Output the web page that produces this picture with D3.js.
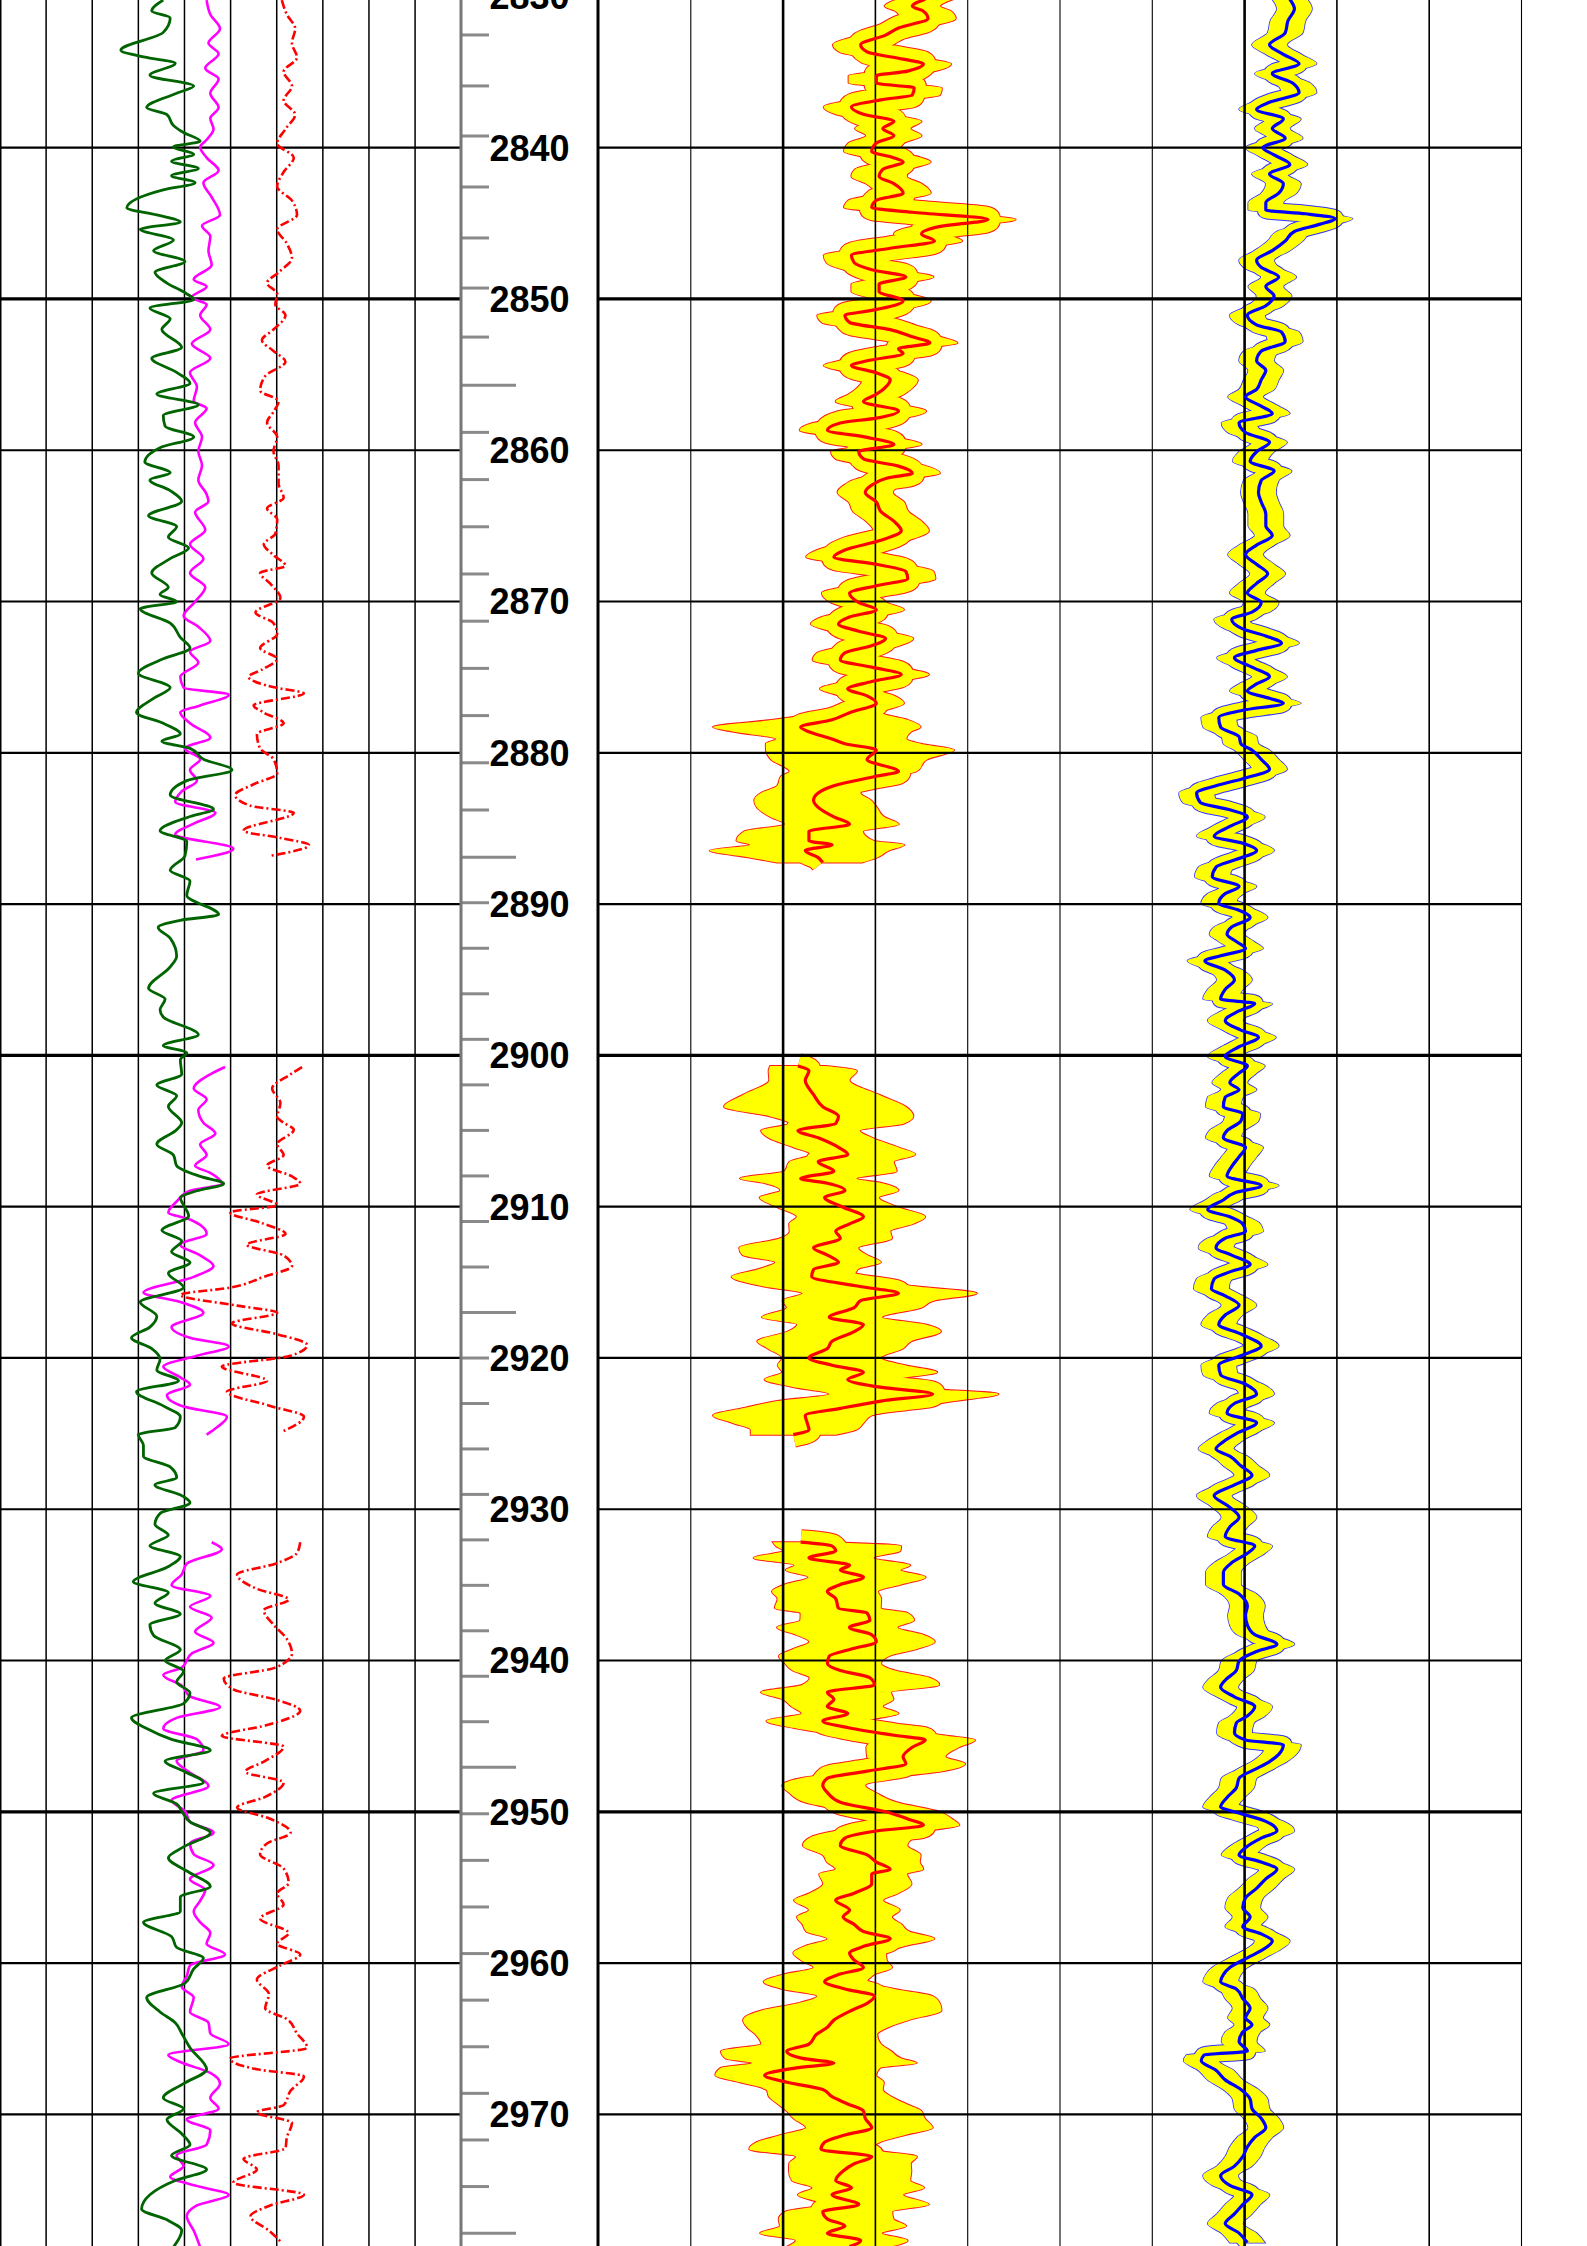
<!DOCTYPE html>
<html><head><meta charset="utf-8">
<script src="https://cdn.jsdelivr.net/npm/d3@7"></script>
<style>body{margin:0;background:#fff}svg{display:block}</style>
</head><body><svg id="c" width="1587" height="2246"></svg>
<script>
// ---------- DATA ----------
const depthTop = 2830.24, depthBottom = 2978.7;
const depthLabels = [2830,2840,2850,2860,2870,2880,2890,2900,2910,2920,2930,2940,2950,2960,2970];
const depthTickMajor = [2855.7,2886.9,2917.0,2947.05,2977.85];
const depthTickMinorTop = [2832.55,2835.92,2839.23,2842.6,2845.97,2849.28,2852.52];

const curveGreen = [[2830.25,35.4],[2830.96,32.9],[2831.43,36.9],[2832.38,35.4],[2833.56,26.2],[2834.04,31.8],[2834.42,38.0],[2835.22,32.5],[2835.93,42.0],[2836.4,38.3],[2837.35,31.8],[2837.82,36.2],[2838.53,37.6],[2839.0,39.8],[2839.57,43.4],[2839.95,37.6],[2840.43,42.0],[2840.9,37.2],[2841.37,43.0],[2841.85,37.2],[2842.32,42.3],[2842.79,35.4],[2843.98,27.5],[2844.45,34.0],[2844.92,39.1],[2845.4,30.4],[2846.1,37.6],[2846.82,33.3],[2847.53,40.1],[2848.24,33.6],[2848.95,36.2],[2849.66,40.5],[2850.03,42.0],[2850.6,32.5],[2851.31,36.9],[2852.02,35.1],[2853.2,39.4],[2853.92,32.9],[2854.86,38.3],[2855.57,41.2],[2856.28,34.0],[2856.99,43.0],[2857.7,35.4],[2858.41,35.8],[2859.12,42.0],[2859.83,34.7],[2860.78,31.4],[2861.49,36.9],[2861.96,32.5],[2862.67,36.9],[2863.38,39.4],[2864.33,32.2],[2865.04,38.3],[2865.75,36.5],[2866.46,40.9],[2867.17,36.9],[2868.11,32.9],[2869.06,36.5],[2869.53,34.7],[2870.01,38.3],[2870.48,30.4],[2871.43,36.9],[2872.37,39.1],[2873.08,41.2],[2873.79,35.4],[2874.74,30.0],[2875.69,36.9],[2876.4,33.3],[2877.34,29.6],[2878.05,35.4],[2878.76,39.1],[2879.24,35.1],[2879.71,41.2],[2880.42,44.1],[2881.13,50.3],[2881.84,40.5],[2882.79,36.9],[2883.73,46.3],[2884.21,41.2],[2885.15,34.7],[2885.86,40.5],[2886.81,40.1],[2887.76,36.9],[2888.47,41.2],[2889.41,40.5],[2890.69,47.4],[2891.07,39.1],[2891.54,34.3],[2892.25,36.9],[2893.44,38.3],[2894.15,36.9],[2895.57,32.2],[2896.28,35.8],[2896.99,34.7],[2897.46,35.4],[2898.64,43.0],[2899.35,35.4],[2899.83,40.5],[2900.3,39.1],[2901.25,39.4],[2901.96,34.0],[2902.67,38.3],[2903.38,36.5],[2904.45,39.4],[2904.92,38.3],[2905.87,34.0],[2906.58,37.6],[2907.29,38.3],[2908.0,43.4],[2908.48,48.5],[2908.95,42.7],[2909.43,39.1],[2909.9,39.8],[2910.61,40.9],[2911.56,35.1],[2912.27,39.4],[2912.98,37.2],[2913.69,41.2],[2914.4,36.5],[2915.35,39.8],[2916.3,30.4],[2917.25,34.0],[2917.96,32.5],[2918.67,28.5],[2919.38,32.9],[2920.09,34.7],[2920.8,34.0],[2921.51,38.7],[2922.23,29.6],[2923.17,35.4],[2923.88,39.1],[2924.6,38.0],[2925.07,30.0],[2925.78,31.1],[2926.49,31.1],[2927.2,36.9],[2927.91,38.3],[2928.39,33.6],[2929.1,39.4],[2929.57,41.2],[2930.28,34.7],[2930.99,33.6],[2931.71,36.5],[2932.42,32.5],[2933.13,39.1],[2933.84,36.2],[2934.79,28.9],[2935.5,36.5],[2936.21,33.6],[2936.92,39.1],[2937.63,32.5],[2938.34,33.3],[2939.29,39.1],[2940.0,35.8],[2940.71,39.8],[2941.42,38.3],[2942.13,41.2],[2942.84,39.8],[2943.79,28.5],[2944.5,31.8],[2945.21,37.2],[2945.93,45.6],[2946.64,35.8],[2947.35,40.1],[2948.06,44.1],[2948.77,33.3],[2949.48,38.3],[2949.95,39.4],[2950.67,41.2],[2951.38,45.6],[2952.32,39.8],[2953.04,36.5],[2953.98,40.9],[2954.93,45.6],[2955.64,39.1],[2956.59,39.1],[2957.3,31.1],[2958.25,37.2],[2958.96,38.3],[2959.67,44.1],[2960.38,42.0],[2961.33,40.1],[2962.28,31.8],[2963.23,34.7],[2963.94,38.0],[2964.65,39.4],[2965.6,41.2],[2967.02,44.8],[2967.97,39.8],[2968.91,35.4],[2969.63,39.8],[2970.34,36.2],[2971.28,39.4],[2972.0,41.2],[2972.71,37.2],[2973.65,44.8],[2974.37,38.0],[2975.31,32.5],[2976.26,30.7],[2976.97,36.2],[2977.68,39.4],[2978.77,37.6]];

const curveMagenta = [[2830.25,44.8],[2831.2,45.6],[2832.14,47.7],[2833.09,45.2],[2833.8,47.4],[2834.75,44.5],[2835.46,47.4],[2836.4,45.6],[2837.35,47.4],[2838.06,45.6],[2838.77,46.3],[2839.48,44.8],[2839.95,43.4],[2840.66,44.8],[2841.51,47.4],[2842.32,44.1],[2843.27,45.9],[2844.45,47.7],[2845.16,43.8],[2845.87,45.6],[2846.82,45.2],[2847.76,45.9],[2848.71,42.0],[2849.18,44.8],[2849.89,41.6],[2850.37,44.8],[2851.08,43.4],[2852.02,45.6],[2852.97,41.6],[2853.92,45.6],[2854.86,41.2],[2855.81,42.7],[2856.75,42.0],[2857.23,44.8],[2858.17,42.3],[2859.12,43.8],[2860.07,43.0],[2861.01,43.8],[2861.96,43.0],[2862.91,44.8],[2863.38,45.2],[2864.09,42.3],[2865.27,44.5],[2866.22,41.2],[2867.17,44.1],[2868.11,41.2],[2869.06,44.5],[2870.01,42.3],[2870.96,39.8],[2871.67,43.0],[2872.61,45.6],[2873.32,41.2],[2874.03,43.0],[2874.98,39.1],[2875.69,39.8],[2876.16,49.6],[2876.87,43.4],[2877.34,39.1],[2878.05,41.2],[2879.0,45.6],[2879.71,40.1],[2880.42,43.4],[2881.13,41.2],[2881.84,42.7],[2882.55,39.4],[2883.26,38.0],[2883.97,46.7],[2884.68,42.0],[2885.39,38.0],[2886.34,50.6],[2887.05,42.5],[2887.1,null],
[2900.77,48.8],[2901.25,45.6],[2902.19,42.0],[2902.9,44.8],[2903.61,43.0],[2904.45,44.1],[2905.16,46.7],[2905.87,43.4],[2906.58,44.8],[2907.29,42.3],[2907.77,45.6],[2908.48,48.1],[2908.95,41.2],[2909.66,38.3],[2910.38,36.5],[2910.85,41.2],[2911.8,44.8],[2912.51,39.1],[2913.22,43.4],[2913.93,46.3],[2914.64,42.0],[2915.68,31.1],[2916.3,39.1],[2917.01,44.1],[2917.96,37.2],[2918.67,41.2],[2919.24,49.6],[2919.86,42.7],[2920.57,35.4],[2921.28,39.1],[2921.75,41.2],[2922.46,36.2],[2923.17,39.4],[2923.88,49.2],[2924.6,47.0],[2925.07,44.8],[2925.1,null],
[2932.18,45.9],[2932.65,48.1],[2933.6,40.5],[2934.31,39.4],[2935.02,37.2],[2935.73,45.6],[2936.45,41.2],[2937.16,45.9],[2938.1,42.3],[2938.82,46.3],[2939.53,41.6],[2940.47,39.4],[2940.95,35.4],[2941.66,39.4],[2942.37,41.2],[2943.08,47.7],[2943.79,38.3],[2944.5,35.4],[2945.21,42.7],[2945.93,44.1],[2946.64,38.3],[2947.35,40.9],[2948.3,45.2],[2949.24,37.2],[2949.95,40.1],[2950.67,41.2],[2951.38,46.3],[2952.09,41.2],[2952.8,42.0],[2953.51,46.3],[2954.46,41.2],[2955.17,44.5],[2955.88,43.4],[2956.59,42.0],[2957.3,43.4],[2958.01,45.6],[2958.72,44.8],[2959.43,48.8],[2960.15,41.2],[2960.86,40.5],[2961.57,39.4],[2962.28,42.0],[2963.23,41.2],[2963.94,45.2],[2964.65,45.6],[2965.36,49.6],[2966.07,36.5],[2966.54,39.1],[2967.26,45.6],[2967.97,47.7],[2968.91,45.6],[2969.63,47.4],[2970.34,40.5],[2971.05,45.6],[2972.0,44.8],[2972.71,38.3],[2973.42,39.8],[2974.13,36.9],[2974.84,44.1],[2975.31,49.6],[2976.02,42.7],[2976.74,40.5],[2977.68,42.0],[2978.77,43.4]];

const curveRedDash = [[2830.25,61.1],[2831.2,62.2],[2832.14,64.0],[2833.09,63.3],[2834.04,64.4],[2834.98,61.5],[2835.93,63.3],[2836.88,61.5],[2837.82,64.0],[2838.77,61.9],[2839.72,60.1],[2840.66,63.7],[2841.61,61.5],[2842.56,60.1],[2843.5,63.3],[2844.45,64.4],[2845.4,60.1],[2846.34,62.2],[2847.29,63.3],[2848.24,60.4],[2848.95,57.9],[2849.66,60.1],[2850.37,59.7],[2851.08,61.9],[2852.02,59.3],[2852.73,56.8],[2853.44,59.3],[2854.15,61.9],[2855.1,57.5],[2856.05,56.4],[2856.75,60.4],[2857.46,59.3],[2858.17,57.9],[2859.12,60.1],[2860.07,59.3],[2861.01,60.4],[2862.2,60.4],[2863.14,61.5],[2863.85,57.9],[2864.56,60.1],[2865.51,59.7],[2866.22,57.2],[2866.93,59.3],[2867.64,61.9],[2868.11,56.4],[2868.82,58.6],[2869.77,60.8],[2870.72,55.4],[2871.43,59.3],[2872.14,60.1],[2873.08,56.4],[2873.79,60.1],[2874.5,56.8],[2874.98,53.9],[2875.69,59.7],[2876.07,65.9],[2876.87,55.0],[2877.34,57.2],[2878.05,61.5],[2878.76,55.7],[2879.71,56.4],[2880.42,59.3],[2881.37,60.1],[2882.08,55.0],[2882.79,51.0],[2883.5,54.3],[2883.97,63.7],[2885.15,52.8],[2885.63,60.8],[2886.1,67.0],[2886.81,58.6],[2886.9,null],
[2900.77,65.5],[2901.25,63.0],[2902.19,59.0],[2903.14,60.8],[2904.08,60.1],[2904.45,61.5],[2904.92,63.7],[2905.87,60.1],[2906.58,61.5],[2907.29,57.9],[2908.0,63.3],[2908.48,65.1],[2909.19,55.7],[2909.9,60.1],[2910.38,49.9],[2911.09,56.8],[2911.8,61.9],[2912.51,53.5],[2913.22,61.5],[2913.93,63.3],[2914.64,57.2],[2915.35,49.9],[2915.83,39.1],[2916.54,51.4],[2917.01,60.1],[2917.72,50.3],[2918.43,60.1],[2919.14,66.6],[2919.86,63.0],[2920.57,48.1],[2921.51,57.9],[2922.23,49.2],[2923.17,58.6],[2923.88,65.9],[2924.83,61.5],[2924.9,null],
[2932.18,65.1],[2932.89,64.4],[2933.6,59.7],[2934.31,51.4],[2935.26,55.7],[2935.97,62.6],[2936.68,57.2],[2937.63,59.3],[2938.58,62.2],[2939.53,63.3],[2940.47,59.7],[2941.19,48.5],[2941.9,50.6],[2942.61,60.1],[2943.32,65.1],[2944.27,57.9],[2944.98,48.1],[2945.69,61.5],[2946.64,57.5],[2947.35,53.2],[2948.06,61.5],[2949.01,57.5],[2949.72,51.4],[2950.43,58.3],[2951.38,63.0],[2952.09,57.9],[2952.8,56.4],[2953.75,61.5],[2954.69,62.6],[2955.41,60.1],[2956.12,61.5],[2957.06,56.4],[2958.01,62.6],[2958.72,60.1],[2959.43,65.1],[2960.15,60.8],[2961.09,55.7],[2962.04,58.3],[2962.99,57.5],[2963.7,62.2],[2964.65,64.4],[2965.6,66.6],[2966.31,49.9],[2967.02,55.7],[2967.49,65.9],[2968.44,63.0],[2969.39,61.5],[2969.86,55.7],[2970.57,63.3],[2971.52,62.2],[2972.23,61.9],[2972.94,52.8],[2973.65,55.7],[2974.51,50.6],[2975.31,65.9],[2976.02,58.6],[2976.74,54.3],[2977.68,58.3],[2978.39,60.8]];

const midRedLine = [[2830.19,35.4],[2830.66,34.0],[2830.98,35.2],[2831.46,35.7],[2832.09,32.5],[2832.56,31.1],[2833.2,28.4],[2833.67,29.1],[2834.15,33.0],[2834.46,35.2],[2834.94,33.5],[2835.25,30.1],[2835.73,30.1],[2836.05,34.2],[2836.52,34.0],[2836.84,30.6],[2837.31,27.4],[2837.79,28.7],[2838.26,32.0],[2838.74,30.8],[2839.21,32.0],[2839.69,30.1],[2840.25,29.6],[2840.63,31.8],[2840.95,33.0],[2841.43,30.8],[2841.9,30.4],[2842.38,32.0],[2843.01,33.0],[2843.48,30.1],[2843.96,29.6],[2844.27,34.0],[2844.75,42.2],[2845.22,36.9],[2845.7,35.0],[2846.17,36.4],[2846.65,31.6],[2847.12,27.4],[2847.6,27.7],[2848.07,29.6],[2848.55,33.3],[2849.02,30.4],[2849.5,30.4],[2850.13,33.0],[2850.76,29.6],[2851.08,26.7],[2851.55,27.2],[2852.03,31.6],[2852.5,34.0],[2852.91,35.9],[2853.29,32.5],[2853.61,33.0],[2854.09,29.1],[2854.4,27.4],[2854.88,30.1],[2855.35,31.6],[2855.83,31.1],[2856.3,30.1],[2856.78,28.7],[2857.41,32.5],[2857.88,30.1],[2858.2,26.2],[2858.68,24.8],[2859.15,29.1],[2859.62,32.0],[2860.1,28.2],[2860.57,28.7],[2861.05,32.5],[2861.52,34.0],[2861.84,31.3],[2862.31,29.6],[2862.79,28.9],[2863.42,30.1],[2864.06,30.6],[2864.69,32.0],[2865.32,32.8],[2865.95,30.6],[2866.59,26.7],[2867.06,25.5],[2867.54,30.1],[2868.01,33.3],[2868.49,33.5],[2868.96,30.1],[2869.44,27.2],[2870.07,28.2],[2870.54,30.1],[2871.02,27.2],[2871.49,26.0],[2871.97,28.2],[2872.44,31.1],[2872.92,29.6],[2873.39,26.7],[2873.87,26.2],[2874.34,29.6],[2874.82,32.8],[2875.29,29.6],[2875.77,27.0],[2876.24,29.1],[2876.72,30.1],[2877.35,27.2],[2877.82,25.3],[2878.3,21.9],[2878.61,22.8],[2879.09,25.3],[2879.4,26.7],[2879.82,30.1],[2880.44,29.1],[2881.23,32.5],[2881.55,30.1],[2882.18,25.5],[2882.66,23.8],[2883.13,23.3],[2883.61,23.8],[2884.24,25.5],[2884.72,27.2],[2885.19,22.8],[2885.82,22.8],[2886.08,25.3],[2886.46,22.4],[2886.93,23.8],[2887.25,24.3],[2887.3,null],
[2900.7,21.6],[2901.02,22.8],[2901.65,22.4],[2902.6,23.3],[2903.39,24.3],[2904.02,26.0],[2904.5,25.7],[2904.97,21.6],[2905.45,23.8],[2906.08,26.0],[2906.55,27.0],[2907.03,23.8],[2907.66,25.5],[2908.14,21.9],[2908.45,24.8],[2908.93,26.7],[2909.4,24.5],[2910.04,26.5],[2910.67,28.7],[2911.14,27.2],[2911.62,25.7],[2912.09,26.2],[2912.73,23.3],[2913.2,24.8],[2913.68,26.0],[2914.15,23.3],[2914.63,23.1],[2915.26,28.2],[2915.73,32.5],[2916.21,28.4],[2916.68,27.7],[2917.31,25.0],[2917.79,28.7],[2918.26,27.7],[2918.9,25.3],[2919.37,24.8],[2920.0,22.8],[2920.48,25.3],[2920.95,28.7],[2921.43,27.0],[2921.9,30.1],[2922.38,36.2],[2922.85,30.6],[2923.33,26.2],[2923.8,22.4],[2924.28,22.6],[2924.75,22.8],[2925.07,21.1],[2925.1,null],
[2932.18,21.9],[2932.43,25.3],[2932.75,25.7],[2933.22,22.8],[2933.7,27.2],[2934.02,26.2],[2934.49,28.7],[2934.97,26.2],[2935.44,24.8],[2935.91,25.7],[2936.55,26.0],[2936.86,29.1],[2937.34,29.4],[2937.81,27.2],[2938.29,29.6],[2938.76,30.1],[2939.24,27.4],[2939.71,25.0],[2940.19,24.8],[2940.66,26.2],[2941.14,29.4],[2941.61,29.9],[2942.09,24.8],[2942.56,25.5],[2943.04,24.8],[2943.51,27.0],[2943.99,24.3],[2944.46,27.2],[2944.94,32.0],[2945.25,35.4],[2945.73,34.0],[2946.36,33.0],[2946.83,33.3],[2947.31,29.1],[2947.78,24.8],[2948.26,24.3],[2948.73,24.8],[2949.37,26.2],[2950.0,31.1],[2950.47,33.5],[2950.89,35.2],[2951.27,30.1],[2951.74,26.7],[2952.22,26.2],[2952.85,29.1],[2953.32,30.1],[2953.8,31.6],[2954.11,29.6],[2954.75,29.6],[2955.38,27.7],[2955.85,25.7],[2956.49,27.2],[2956.96,26.5],[2957.44,27.7],[2957.91,28.7],[2958.39,31.6],[2958.86,28.9],[2959.34,27.2],[2959.81,27.7],[2960.29,28.7],[2960.76,26.0],[2961.24,24.5],[2961.71,26.7],[2962.18,29.9],[2962.66,29.1],[2963.13,27.4],[2963.77,25.5],[2964.24,24.8],[2964.72,23.6],[2965.35,22.8],[2965.82,20.4],[2966.3,22.1],[2966.61,25.5],[2966.93,21.4],[2967.41,18.0],[2967.88,20.4],[2968.36,24.3],[2968.83,25.3],[2969.31,27.0],[2969.78,28.7],[2970.26,28.9],[2970.89,29.6],[2971.36,26.7],[2971.84,24.5],[2972.31,24.1],[2972.79,29.6],[2973.26,27.7],[2973.74,26.5],[2974.37,25.7],[2974.85,27.4],[2975.32,25.3],[2975.96,28.2],[2976.43,24.3],[2976.91,24.8],[2977.38,26.7],[2977.86,24.8],[2978.33,28.4],[2978.74,27.2]];

// how far the yellow band reaches beyond the red curve where it is wide: [depth, left, right]
const midBandOffset = [[2877.3,3,3],[2878.3,9.5,13],[2879.1,6,8],[2879.8,12,8.5],[2880.6,10,6],[2881.3,12,1.5],[2882.2,6,3],[2883.3,6.5,6.8],[2884.5,7,5.1],[2885.6,7,6.3],[2886.5,10.5,9.2],[2887.3,4.6,3.9],
[2900.7,4.6,5.4],[2901.65,3.9,4.8],[2903.39,10.7,9.0],[2904.8,3.5,7],[2905.6,5.8,5.6],[2907.03,3.1,8.2],[2907.98,6.5,6.1],[2908.93,7,5.8],[2910.2,7.1,6],[2911.0,7.3,7.2],[2911.5,4.6,6],[2912.09,6.5,5.6],[2913.2,9.2,4.3],[2914.0,5.3,4.8],[2914.95,10.4,4.6],[2915.73,10.4,8.5],[2916.5,7.3,7.7],[2917.6,7.3,5],[2918.1,7,9.6],[2919.05,8.3,8.4],[2920.0,2.9,7.8],[2920.95,8.8,8],[2921.9,9.2,2.9],[2922.5,11.7,8.2],[2923.8,10,7.2],[2924.75,6.3,5.1],[2925.07,4.6,4.6],
[2932.18,6.8,8.2],[2932.6,5.6,7],[2933.22,6,7],[2933.54,6,6.6],[2934.17,5.9,6.5],[2934.8,6,7],[2935.6,6,5.1],[2936.86,7.2,4.4],[2938.29,8.2,5.6],[2939.24,6.3,7.1],[2940.35,4.3,5.6],[2941.77,8.3,7.2],[2943.04,3.9,6],[2943.99,6.1,5],[2945.25,5.8,5.4],[2946.36,3.9,4.6],[2947.31,1.5,8.3],[2948.26,4.4,4.6],[2949.68,3.7,6.5],[2950.89,5,3.9],[2951.9,3.7,8],[2953.8,5.9,3.6],[2956.33,4.2,5.5],[2958.39,6.8,4.8],[2960.29,5.4,3.1],[2961.55,7,5.1],[2962.34,6,6.6],[2963.29,10.5,10.4],[2964.08,9.4,6.6],[2965.19,4.5,6.6],[2965.98,7.8,12.5],[2966.77,9.1,8.1],[2967.57,4.4,13.1],[2968.36,6.1,6.5],[2969.78,8.3,6.3],[2971.2,6.8,6.7],[2972.79,8.2,4.9],[2974.05,5.1,8.2],[2975.32,3.7,7.7],[2976.6,4.1,7.5],[2977.5,7.5,6.5],[2978.74,6.8,4.4]];
const midBandHalfWidth = 3.0;   // band half-width (track units) elsewhere
const blueBandHalfWidth = 1.9;

const blueLine = [[2830.19,74.9],[2830.82,75.4],[2831.61,74.7],[2832.41,74.4],[2833.2,72.7],[2833.83,74.2],[2834.46,75.9],[2835.1,73.0],[2835.73,75.2],[2836.36,75.9],[2837.0,72.7],[2837.47,71.3],[2838.1,74.2],[2838.74,73.0],[2839.37,74.4],[2840.0,72.0],[2840.48,73.2],[2841.11,74.9],[2841.74,72.7],[2842.38,74.2],[2843.01,73.7],[2843.64,72.3],[2844.12,72.3],[2844.37,76.6],[2844.69,79.8],[2845.07,78.1],[2845.54,75.4],[2846.17,74.4],[2846.81,73.0],[2847.44,71.3],[2847.91,71.8],[2848.55,73.7],[2849.18,72.3],[2849.81,73.2],[2850.45,72.3],[2851.08,70.3],[2851.71,71.3],[2852.19,74.0],[2852.82,74.4],[2853.45,71.8],[2854.09,71.3],[2854.72,72.3],[2855.35,71.8],[2855.98,71.3],[2856.46,70.1],[2857.09,71.8],[2857.57,73.0],[2858.2,69.4],[2858.83,70.1],[2859.47,72.7],[2860.1,71.3],[2860.73,70.6],[2861.37,73.2],[2862.0,71.8],[2862.79,71.5],[2863.42,71.8],[2864.21,72.3],[2865.0,72.3],[2865.64,73.0],[2866.27,71.3],[2866.9,70.1],[2867.54,71.3],[2868.17,72.5],[2868.8,71.3],[2869.44,70.3],[2870.07,71.8],[2870.7,70.8],[2871.18,68.6],[2871.81,69.8],[2872.28,72.3],[2872.76,74.0],[2873.23,71.3],[2873.71,68.9],[2874.34,70.8],[2874.97,72.7],[2875.45,71.3],[2875.92,70.3],[2876.4,72.7],[2876.72,74.2],[2877.19,69.8],[2877.67,67.2],[2878.3,67.4],[2878.93,69.4],[2879.4,69.6],[2879.82,70.8],[2880.44,71.8],[2881.08,72.7],[2881.71,69.8],[2882.18,66.9],[2882.66,64.8],[2883.29,65.2],[2883.77,68.4],[2884.24,70.3],[2884.87,68.4],[2885.51,66.7],[2885.98,69.8],[2886.46,71.3],[2887.09,68.9],[2887.56,66.9],[2888.2,66.5],[2888.83,69.4],[2889.31,67.9],[2889.94,67.2],[2890.41,69.4],[2890.89,70.6],[2891.52,68.6],[2892.0,68.1],[2892.47,69.1],[2892.94,70.1],[2893.42,67.4],[2893.74,65.7],[2894.37,67.9],[2895.0,68.9],[2895.64,67.9],[2896.27,67.4],[2896.58,71.1],[2897.06,69.4],[2897.69,67.9],[2898.33,69.6],[2898.8,71.5],[2899.43,69.4],[2900.07,67.9],[2900.7,70.3],[2901.17,69.4],[2901.81,68.4],[2902.28,69.4],[2902.76,67.9],[2903.39,67.7],[2903.86,69.8],[2904.34,69.6],[2904.97,68.1],[2905.45,67.7],[2906.08,70.1],[2906.71,69.4],[2907.35,68.6],[2907.98,68.1],[2908.61,71.8],[2909.09,68.9],[2909.56,67.7],[2910.19,66.0],[2910.67,68.4],[2911.14,69.8],[2911.62,70.1],[2912.09,67.9],[2912.73,66.9],[2913.2,68.6],[2913.83,70.6],[2914.31,68.4],[2914.78,66.7],[2915.42,66.4],[2915.89,67.9],[2916.52,69.4],[2917.16,67.9],[2917.79,67.2],[2918.42,69.6],[2919.21,71.8],[2919.85,69.6],[2920.48,67.2],[2921.11,67.4],[2921.74,70.1],[2922.38,71.3],[2923.01,68.9],[2923.64,68.1],[2924.28,71.3],[2924.91,69.4],[2925.54,67.7],[2926.02,66.9],[2926.49,68.4],[2927.13,69.6],[2927.76,70.8],[2928.39,68.9],[2929.11,66.7],[2929.74,68.1],[2930.53,69.4],[2931.17,68.4],[2931.8,67.9],[2932.43,71.1],[2932.91,70.3],[2933.54,68.6],[2934.17,67.7],[2934.97,67.7],[2935.6,69.4],[2936.39,70.3],[2937.02,70.1],[2937.66,70.3],[2938.29,71.1],[2938.92,73.5],[2939.4,71.3],[2940.03,69.4],[2940.66,69.1],[2941.3,67.9],[2941.77,67.4],[2942.4,68.9],[2943.04,71.1],[2943.67,70.3],[2944.14,69.1],[2944.78,68.9],[2945.25,70.1],[2945.57,74.2],[2946.2,73.7],[2946.68,72.7],[2947.15,71.3],[2947.78,69.4],[2948.42,69.1],[2949.05,68.1],[2949.68,67.4],[2950.0,68.9],[2950.63,72.3],[2951.27,73.5],[2951.74,71.8],[2952.37,70.1],[2952.85,69.4],[2953.32,71.8],[2953.8,73.5],[2954.43,72.3],[2955.06,71.3],[2955.7,70.1],[2956.33,69.8],[2956.96,70.6],[2957.6,69.8],[2958.07,71.8],[2958.54,73.0],[2959.18,71.8],[2959.65,70.3],[2960.29,68.4],[2960.76,67.7],[2961.24,67.4],[2961.71,69.1],[2962.34,69.8],[2962.98,70.6],[2963.61,70.1],[2964.08,70.8],[2964.56,69.8],[2965.19,69.4],[2965.82,70.3],[2966.08,65.6],[2966.46,65.3],[2967.09,66.9],[2967.72,67.9],[2968.36,69.6],[2968.99,70.6],[2969.62,70.8],[2970.26,71.8],[2970.89,72.3],[2971.52,71.1],[2972.15,70.3],[2972.79,69.8],[2973.42,68.9],[2974.05,67.4],[2974.69,68.4],[2975.32,70.8],[2975.96,69.8],[2976.58,68.9],[2977.22,67.9],[2977.85,69.4],[2978.48,70.3]];

// ---------- DRAWING ----------
const W = 1587, H = 2246;
const svg = d3.select('#c');
const y = d3.scaleLinear().domain([depthTop, depthBottom]).range([0, H]);
const xL = d3.scaleLinear().domain([0, 100]).range([0, 461.2]);
const xM = d3.scaleLinear().domain([0, 100]).range([598.5, 1521.5]);
const gridDepths = d3.range(2840, 2980, 10);

function segments(arr) {
  const segs = []; let cur = [];
  arr.forEach(p => { if (p[1] == null) { if (cur.length) segs.push(cur); cur = []; } else cur.push(p); });
  if (cur.length) segs.push(cur);
  return segs;
}
function offAt(d, dflt) {
  for (let i = 0; i < midBandOffset.length - 1; i++) {
    const a = midBandOffset[i], b = midBandOffset[i + 1];
    if (d >= a[0] && d <= b[0]) {
      if (b[0] - a[0] > 5) return [dflt, dflt];
      const t = (d - a[0]) / (b[0] - a[0]);
      return [a[1] + t * (b[1] - a[1]), a[2] + t * (b[2] - a[2])];
    }
  }
  return [dflt, dflt];
}

const gBand = svg.append('g');
const gGrid = svg.append('g');
const gCurves = svg.append('g');
const gDepth = svg.append('g');

const lineMid = d3.line().x(d => xM(d[1])).y(d => y(d[0])).curve(d3.curveMonotoneY);
const areaMid = d3.area()
  .y(d => y(d.d)).x0(d => xM(d.v - d.off[0])).x1(d => xM(d.v + d.off[1])).curve(d3.curveMonotoneY);

const redSegs = segments(midRedLine);
const redPts = redSegs.map(s => s.map(p => ({ d: p[0], v: p[1], off: offAt(p[0], midBandHalfWidth) })));
const bluePts = blueLine.map(p => ({ d: p[0], v: p[1], off: [blueBandHalfWidth, blueBandHalfWidth] }));

// outline layers (drawn first, slightly larger), then yellow fill layers
redPts.forEach(s => gBand.append('path').attr('d', areaMid(s)).attr('fill', 'none').attr('stroke', '#ff1a1a').attr('stroke-width', 2));
redSegs.forEach(s => gBand.append('path').attr('d', lineMid(s)).attr('fill', 'none').attr('stroke', '#ff1a1a').attr('stroke-width', 26).attr('stroke-linejoin', 'round'));
gBand.append('path').attr('d', areaMid(bluePts)).attr('fill', 'none').attr('stroke', '#3030ff').attr('stroke-width', 1.6);
gBand.append('path').attr('d', lineMid(blueLine)).attr('fill', 'none').attr('stroke', '#3030ff').attr('stroke-width', 18).attr('stroke-linejoin', 'round');

redPts.forEach(s => gBand.append('path').attr('d', areaMid(s)).attr('fill', '#ffff00').attr('stroke', 'none'));
redSegs.forEach(s => gBand.append('path').attr('d', lineMid(s)).attr('fill', 'none').attr('stroke', '#ffff00').attr('stroke-width', 24).attr('stroke-linejoin', 'round'));
gBand.append('path').attr('d', areaMid(bluePts)).attr('fill', '#ffff00').attr('stroke', 'none');
gBand.append('path').attr('d', lineMid(blueLine)).attr('fill', 'none').attr('stroke', '#ffff00').attr('stroke-width', 16).attr('stroke-linejoin', 'round');

// ----- grid -----
d3.range(0, 100, 10).forEach(v => {
  const xx = Math.max(xL(v), 0.75);
  gGrid.append('line').attr('x1', xx).attr('x2', xx).attr('y1', 0).attr('y2', H)
    .attr('stroke', '#000').attr('stroke-width', 1.5);
});
d3.range(10, 101, 10).forEach(v => {
  const w = (v === 20 || v === 70) ? 2.6 : (v === 30 || v === 80 || v === 90) ? 1.6 : 1.1;
  gGrid.append('line').attr('x1', xM(v)).attr('x2', xM(v)).attr('y1', 0).attr('y2', H)
    .attr('stroke', '#000').attr('stroke-width', w);
});
gridDepths.forEach(d => {
  const w = d % 50 === 0 ? 3.2 : 2.2;
  gGrid.append('line').attr('x1', 0).attr('x2', 462.5).attr('y1', y(d)).attr('y2', y(d)).attr('stroke', '#000').attr('stroke-width', w);
  gGrid.append('line').attr('x1', 598.5).attr('x2', xM(100)).attr('y1', y(d)).attr('y2', y(d)).attr('stroke', '#000').attr('stroke-width', w);
});

// ----- middle curves -----
redSegs.forEach(s => gCurves.append('path').attr('d', lineMid(s)).attr('fill', 'none').attr('stroke', '#ff0000').attr('stroke-width', 3.2).attr('stroke-linejoin', 'round'));
gCurves.append('path').attr('d', lineMid(blueLine)).attr('fill', 'none').attr('stroke', '#0000ff').attr('stroke-width', 3.2).attr('stroke-linejoin', 'round');

// ----- left curves -----
const lineLeft = d3.line().x(d => xL(d[1])).y(d => y(d[0])).curve(d3.curveMonotoneY);
segments(curveRedDash).forEach(s => gCurves.append('path').attr('d', lineLeft(s)).attr('fill', 'none')
  .attr('stroke', '#ff0000').attr('stroke-width', 2.6).attr('stroke-dasharray', '9,3,2,3'));
segments(curveMagenta).forEach(s => gCurves.append('path').attr('d', lineLeft(s)).attr('fill', 'none')
  .attr('stroke', '#ff00ff').attr('stroke-width', 2.6).attr('stroke-linejoin', 'round'));
gCurves.append('path').attr('d', lineLeft(curveGreen)).attr('fill', 'none')
  .attr('stroke', '#006400').attr('stroke-width', 2.8).attr('stroke-linejoin', 'round');

// ----- depth track -----
gDepth.append('rect').attr('x', 462).attr('y', 0).attr('width', 135).attr('height', H).attr('fill', '#fff');
const minorTicks = depthTickMinorTop.slice();
for (let i = 0; i < depthTickMajor.length - 1; i++) {
  const a = depthTickMajor[i], b = depthTickMajor[i + 1];
  d3.range(1, 10).forEach(k => minorTicks.push(a + (b - a) * k / 10));
}
minorTicks.forEach(d => gDepth.append('line').attr('x1', 461).attr('x2', 489).attr('y1', y(d)).attr('y2', y(d))
  .attr('stroke', '#8a8a8a').attr('stroke-width', 3));
depthTickMajor.forEach(d => gDepth.append('line').attr('x1', 461).attr('x2', 516).attr('y1', y(d)).attr('y2', y(d))
  .attr('stroke', '#8a8a8a').attr('stroke-width', 3));
gDepth.append('line').attr('x1', 461).attr('x2', 461).attr('y1', 0).attr('y2', H).attr('stroke', '#777').attr('stroke-width', 3);
gDepth.append('line').attr('x1', 598).attr('x2', 598).attr('y1', 0).attr('y2', H).attr('stroke', '#000').attr('stroke-width', 3);
depthLabels.forEach(d => gDepth.append('text').attr('x', 489.5).attr('y', y(d)).attr('dy', '0.36em')
  .attr('font-family', '"Liberation Sans", Arial, sans-serif').attr('font-weight', 'bold').attr('font-size', 36)
  .attr('fill', '#000').text(d));
</script></body></html>
